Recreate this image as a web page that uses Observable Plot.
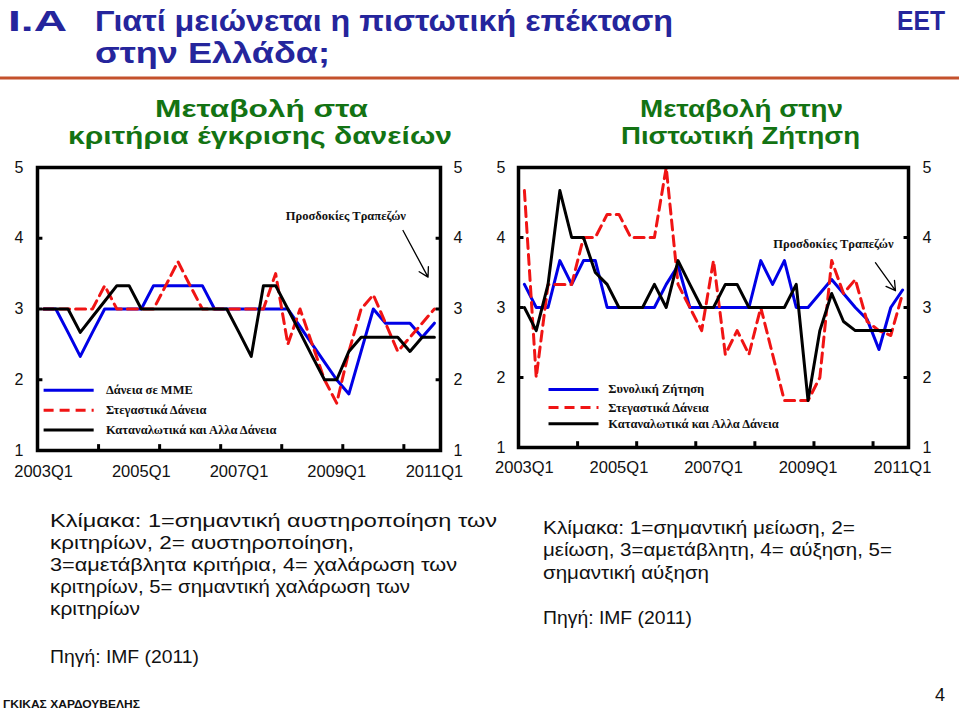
<!DOCTYPE html>
<html lang="el">
<head>
<meta charset="utf-8">
<title>Γιατί μειώνεται η πιστωτική επέκταση στην Ελλάδα;</title>
<script src="https://cdn.jsdelivr.net/npm/d3@7"></script>
<script src="https://cdn.jsdelivr.net/npm/@observablehq/plot@0.6"></script>
<style>
html,body{margin:0;padding:0;background:#fff}
#page{position:relative;width:959px;height:710px;overflow:hidden;background:#fff}
#left,#right,#overlay{position:absolute}
#left{left:0;top:150px}
#right{left:480px;top:150px}
#overlay{left:0;top:0;pointer-events:none}
</style>
</head>
<body>
<div id="page">
  <div id="left"></div>
  <div id="right"></div>
  <svg id="overlay" width="959" height="710"></svg>
</div>
<script>
// ---------- data (quarter index 0 = 2003Q1 ... 32 = 2011Q1) ----------
const quarterLabels = ["2003Q1", "2005Q1", "2007Q1", "2009Q1", "2011Q1"];
const quarterLabelPos = [0, 8, 16, 24, 32];
const innerTickPos = [4.5, 9.5, 14.5, 19.5, 24.5, 29.5];
const yTickValues = [1, 2, 3, 4, 5];
const yInnerTicks = [2, 3, 4];

// Left: change in credit standards
const smeLoans     = [3,3,2.67,2.33,2.67,3,3,3,3,3.33,3.33,3.33,3.33,3.33,3,3,3,3,3,3,3,2.75,2.5,2.25,2,1.8,2.4,3,2.8,2.8,2.8,2.6,2.8];
const housingLeft  = [3,3,3,3,3,3.33,3,3,3,3,3.33,3.67,3.33,3,3,3,3,3,3,3.5,2.5,3,2.5,2.0,1.67,2.4,3.0,3.2,2.8,2.4,2.6,2.8,3.0];
const consumerLeft = [3,3,3,2.67,2.89,3.11,3.33,3.33,3,3,3,3,3,3,3,3,2.67,2.33,3.33,3.33,3,2.67,2.33,2,2,2.4,2.6,2.6,2.6,2.6,2.4,2.6,2.6];

// Right: change in credit demand
const totalDemand   = [3.33,3,3,3.67,3.33,3.67,3.67,3,3,3,3,3,3.33,3.6,3,3,3,3,3,3,3.67,3.33,3.67,3,3,3.2,3.4,3.2,3,2.83,2.4,3,3.25];
const housingRight  = [4.67,2.0,3.33,3.33,3.33,4,4,4.33,4.33,4,4,4,5,3.33,3,2.67,3.67,2.33,2.67,2.33,3,2.33,1.67,1.67,1.67,2,3.67,3.2,3.4,2.8,2.67,2.6,3.2];
const consumerRight = [3,2.67,3.33,4.67,4,4,3.5,3.33,3,3,3,3.33,3,3.67,3.33,3,3,3.33,3.33,3,3,3,3,3.33,1.67,2.67,3.2,2.8,2.67,2.67,2.67,2.67,null];

const leftLegend  = ["Δάνεια σε ΜΜΕ", "Στεγαστικά Δάνεια", "Καταναλωτικά και Αλλα Δάνεια"];
const rightLegend = ["Συνολική Ζήτηση", "Στεγαστικά Δάνεια", "Καταναλωτικά και Αλλα Δάνεια"];
const noteText = "Προσδοκίες Τραπεζών";

// ---------- styling ----------
const BLUE = "#0000e6", RED = "#f01414", BLACK = "#000000";
const SANS = "Liberation Sans, Arial, sans-serif";
const SERIF = "Liberation Serif, Times New Roman, serif";
const lineStyles = [
  {stroke: BLUE},
  {stroke: RED, strokeDasharray: "10,6"},
  {stroke: BLACK}
];

function rows(values) { return values.map((v, i) => ({q: i, v})); }

function chart(cfg) {
  const marks = [];
  cfg.series.forEach((vals, k) => {
    marks.push(Plot.line(rows(vals), {x: "q", y: "v", strokeWidth: 3, ...lineStyles[k]}));
  });
  cfg.legendLabels.forEach((lab, k) => {
    const y = cfg.legend.y[k];
    marks.push(Plot.link([lab], {x1: cfg.legend.x1, x2: cfg.legend.x2, y1: y, y2: y, strokeWidth: 3, ...lineStyles[k]}));
    marks.push(Plot.text([lab], {x: cfg.legend.tx, y: y, text: d => d, textAnchor: "start",
      fontFamily: SERIF, fontWeight: "bold", fontSize: 12.5, fill: "#111"}));
  });
  marks.push(Plot.text([noteText], {x: cfg.note.tx, y: cfg.note.ty, text: d => d,
    fontFamily: SERIF, fontWeight: "bold", fontSize: 12.5, fill: "#111"}));
  marks.push(Plot.arrow([noteText], {x1: cfg.note.ax1, y1: cfg.note.ay1, x2: cfg.note.ax2, y2: cfg.note.ay2,
    stroke: "#000", strokeWidth: 1.3, headLength: 12}));
  // inward ticks
  marks.push(Plot.link(yInnerTicks, {x1: -0.5, x2: -0.5 + cfg.tickLenX, y1: d => d, y2: d => d, stroke: "#000", strokeWidth: 3}));
  marks.push(Plot.link(yInnerTicks, {x1: 32.5, x2: 32.5 - cfg.tickLenX, y1: d => d, y2: d => d, stroke: "#000", strokeWidth: 3}));
  marks.push(Plot.link(innerTickPos, {x1: d => d, x2: d => d, y1: 1, y2: 1.09, stroke: "#000", strokeWidth: 3}));
  marks.push(Plot.frame({stroke: "#000", strokeWidth: 3.5}));
  marks.push(Plot.axisY({anchor: "left", ticks: yTickValues, tickFormat: d3.format("d"), tickSize: 0, tickPadding: cfg.padL, fontSize: 16, label: null}));
  marks.push(Plot.axisY({anchor: "right", ticks: yTickValues, tickFormat: d3.format("d"), tickSize: 0, tickPadding: cfg.padR, fontSize: 16, label: null}));
  marks.push(Plot.axisX({ticks: quarterLabelPos, tickFormat: d => quarterLabels[quarterLabelPos.indexOf(d)],
    tickSize: 0, tickPadding: cfg.padB, fontSize: 16.5, label: null}));
  return Plot.plot({
    width: cfg.width, height: 340,
    marginLeft: cfg.marginLeft, marginRight: cfg.marginRight, marginTop: 17, marginBottom: cfg.marginBottom,
    x: {domain: [-0.5, 32.5], label: null},
    y: {domain: [1, 5], label: null},
    style: {fontFamily: SANS, background: "transparent", overflow: "visible", color: "#111"},
    marks
  });
}

document.getElementById("left").append(chart({
  width: 480, marginLeft: 37, marginRight: 40, marginBottom: 40,
  series: [smeLoans, housingLeft, consumerLeft],
  legendLabels: leftLegend,
  legend: {x1: 0, x2: 4.1, tx: 5.1, y: [1.85, 1.57, 1.29]},
  note: {tx: 24.75, ty: 4.32, ax1: 29.43, ay1: 4.11, ax2: 31.48, ay2: 3.45},
  tickLenX: 0.4, padL: 14, padR: 13, padB: 15
}));

document.getElementById("right").append(chart({
  width: 479, marginLeft: 38, marginRight: 51, marginBottom: 43,
  series: [totalDemand, housingRight, consumerRight],
  legendLabels: rightLegend,
  legend: {x1: 2.04, x2: 6.27, tx: 7.1, y: [1.83, 1.57, 1.34]},
  note: {tx: 26.15, ty: 3.91, ax1: 29.7, ay1: 3.64, ax2: 31.4, ay2: 3.24},
  tickLenX: 0.42, padL: 13, padR: 14, padB: 14
}));

// ---------- page text ----------
const ov = d3.select("#overlay");
function T(s, x, y, o = {}) {
  const t = ov.append("text").attr("x", x).attr("y", y).text(s)
    .attr("font-family", o.family || SANS)
    .attr("font-size", o.size || 18)
    .attr("font-weight", o.weight || "normal")
    .attr("fill", o.fill || "#111");
  if (o.anchor) t.attr("text-anchor", o.anchor);
  if (o.len) t.attr("textLength", o.len).attr("lengthAdjust", "spacingAndGlyphs");
  return t;
}
const TITLE = "#25259c", GREEN = "#137313";

T("I.A", 8, 31, {size: 30, weight: "bold", fill: TITLE, len: 59});
T("Γιατί μειώνεται η πιστωτική επέκταση", 95, 31, {size: 30, weight: "bold", fill: TITLE, len: 578});
T("στην Ελλάδα;", 95, 63, {size: 30, weight: "bold", fill: TITLE, len: 235});
T("EET", 897, 30, {size: 27, weight: "bold", fill: TITLE, len: 48});
ov.append("line").attr("x1", 0).attr("x2", 959).attr("y1", 78).attr("y2", 78)
  .attr("stroke", "#c4512c").attr("stroke-width", 3);

T("Μεταβολή στα", 155, 117, {size: 24, weight: "bold", fill: GREEN, len: 213});
T("κριτήρια έγκρισης δανείων", 68, 144, {size: 24, weight: "bold", fill: GREEN, len: 384});
T("Μεταβολή στην", 640, 117, {size: 24, weight: "bold", fill: GREEN, len: 203});
T("Πιστωτική Ζήτηση", 621, 144, {size: 24, weight: "bold", fill: GREEN, len: 239});

const leftNotes = [
  ["Κλίμακα: 1=σημαντική αυστηροποίηση των", 527, 447],
  ["κριτηρίων, 2= αυστηροποίηση,", 549, 304],
  ["3=αμετάβλητα κριτήρια, 4= χαλάρωση των", 571, 407],
  ["κριτηρίων, 5= σημαντική χαλάρωση των", 593, 360],
  ["κριτηρίων", 615, 90],
  ["Πηγή: IMF (2011)", 663, 149]
];
leftNotes.forEach(([s, y, len]) => T(s, 50, y, {size: 18, len}));
const rightNotes = [
  ["Κλίμακα: 1=σημαντική μείωση, 2=", 534, 312],
  ["μείωση, 3=αμετάβλητη, 4= αύξηση, 5=", 556, 349],
  ["σημαντική αύξηση", 579, 166],
  ["Πηγή: IMF (2011)", 624, 149]
];
rightNotes.forEach(([s, y, len]) => T(s, 543, y, {size: 18, len}));

T("ΓΚΙΚΑΣ ΧΑΡΔΟΥΒΕΛΗΣ", 3, 708, {size: 10, weight: "bold", len: 137});
T("4", 935, 701, {size: 18});
</script>
</body>
</html>
